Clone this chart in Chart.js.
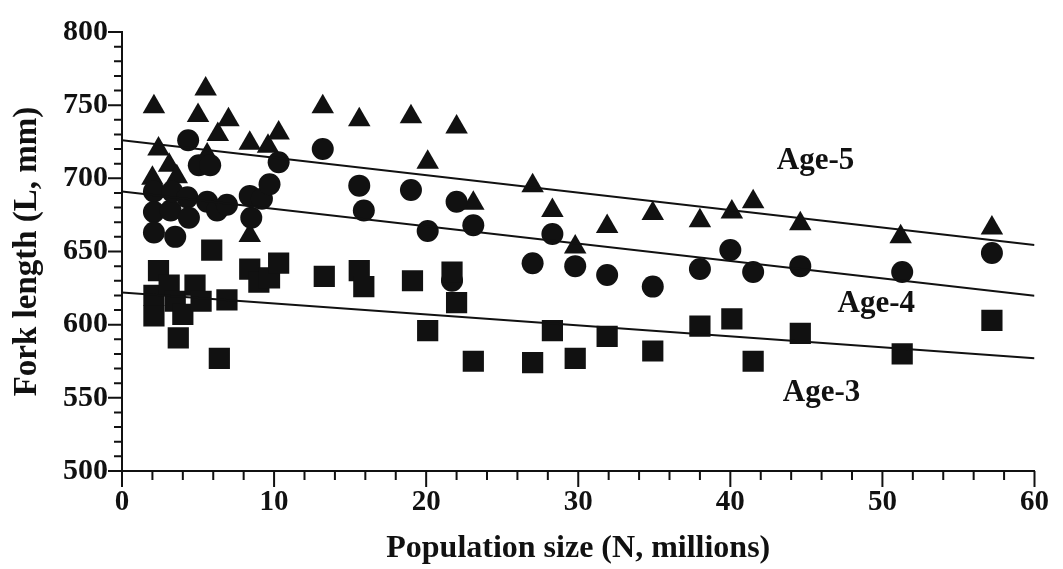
<!DOCTYPE html>
<html>
<head>
<meta charset="utf-8">
<title>Fork length vs population size</title>
<script src="https://cdn.jsdelivr.net/npm/chart.js@4.4.1/dist/chart.umd.min.js"></script>
<style>
  html, body { margin: 0; padding: 0; background: #fff; }
  #wrap { width: 1063px; height: 569px; }
</style>
</head>
<body>
<div id="wrap"><canvas id="chart" width="1063" height="569"></canvas></div>
<script>
// population size (N, millions) and fork length (mm)
const age5X = [2.0, 2.1, 2.4, 3.1, 3.6, 5.0, 5.5, 5.6, 6.3, 7.0, 8.4, 8.4, 9.6, 10.3, 13.2, 15.6, 19.0, 20.1, 22.0, 23.1, 27.0, 28.3, 29.8, 31.9, 34.9, 38.0, 40.1, 41.5, 44.6, 51.2, 57.2];
const age5Y = [700, 749, 720, 709, 701, 743, 761, 716, 730, 740, 724, 661, 722, 731, 749, 740, 742, 711, 735, 683, 695, 678, 653, 667, 676, 671, 677, 684, 669, 660, 666];

const age4X = [2.1, 2.1, 2.1, 3.2, 3.3, 3.5, 4.3, 4.4, 4.35, 5.05, 5.8, 5.6, 6.25, 6.9, 8.4, 9.2, 8.5, 9.7, 10.3, 13.2, 15.6, 15.9, 19.0, 20.1, 21.7, 22.0, 23.1, 27.0, 28.3, 29.8, 31.9, 34.9, 38.0, 40.0, 41.5, 44.6, 51.3, 57.2];
const age4Y = [691, 677, 663, 678, 691, 660, 687, 673, 726, 709, 709, 684, 678, 682, 688, 686, 673, 696, 711, 720, 695, 678, 692, 664, 630, 684, 668, 642, 662, 640, 634, 626, 638, 651, 636, 640, 636, 649];

const age3X = [2.1, 2.1, 2.4, 3.1, 3.5, 3.7, 4.0, 4.8, 5.2, 5.9, 6.4, 6.9, 8.4, 9.0, 9.7, 10.3, 13.3, 15.6, 15.9, 19.1, 20.1, 21.7, 22.0, 23.1, 27.0, 28.3, 29.8, 31.9, 34.9, 38.0, 40.1, 41.5, 44.6, 51.3, 57.2];
const age3Y = [620, 606, 637, 627, 616, 591, 607, 627, 616, 651, 577, 617, 638, 629, 632, 642, 633, 637, 626, 630, 596, 636, 615, 575, 574, 596, 577, 592, 582, 599, 604, 575, 594, 580, 603];

// fitted lines, value at N = 0 and N = 60
const fitX = [0, 60];
const fit5Y = [726, 654.5];
const fit4Y = [691, 619.7];
const fit3Y = [622, 577];

const xTicks = [0, 10, 20, 30, 40, 50, 60];
const yTicks = [500, 550, 600, 650, 700, 750, 800];

const INK = '#111';
const serif = '"Liberation Serif", "Times New Roman", serif';

const pts = (xs, ys) => xs.map((x, i) => ({ x: x, y: ys[i] }));

function markerSet(data, style, radius) {
    return {
        type: 'scatter',
        data: data,
        pointStyle: style,
        pointRadius: radius,
        pointHoverRadius: radius,
        backgroundColor: INK,
        borderColor: INK,
        borderWidth: 0
    };
}

function fitSet(ys) {
    return {
        type: 'line',
        data: pts(fitX, ys),
        borderColor: INK,
        borderWidth: 2,
        pointRadius: 0,
        fill: false,
        tension: 0
    };
}

// axis tick marks (minor + major) and the in-plot labels
const decorations = {
    id: 'decorations',
    afterDraw(chart) {
        const ctx = chart.ctx;
        const xs = chart.scales.x, ys = chart.scales.y;
        const area = chart.chartArea;
        ctx.save();
        ctx.strokeStyle = INK;
        ctx.lineWidth = 2;
        ctx.beginPath();
        for (let v = 0; v <= 60; v += 2) {
            const px = xs.getPixelForValue(v);
            const len = v % 10 === 0 ? 16 : 9;
            ctx.moveTo(px, area.bottom);
            ctx.lineTo(px, area.bottom + len);
        }
        for (let v = 500; v <= 800; v += 10) {
            const py = ys.getPixelForValue(v);
            const len = v % 50 === 0 ? 14 : 8;
            ctx.moveTo(area.left, py);
            ctx.lineTo(area.left - len, py);
        }
        ctx.stroke();

        ctx.fillStyle = INK;
        ctx.font = 'bold 31px ' + serif;
        ctx.textAlign = 'center';
        ctx.textBaseline = 'middle';
        ctx.fillText('Age-5', xs.getPixelForValue(45.6), ys.getPixelForValue(712));
        ctx.fillText('Age-4', xs.getPixelForValue(49.6), ys.getPixelForValue(614));
        ctx.fillText('Age-3', xs.getPixelForValue(46.0), ys.getPixelForValue(553));
        ctx.restore();
    }
};

new Chart(document.getElementById('chart').getContext('2d'), {
    data: {
        datasets: [
            fitSet(fit5Y),
            fitSet(fit4Y),
            fitSet(fit3Y),
            markerSet(pts(age3X, age3Y), 'rect', 15),
            markerSet(pts(age4X, age4Y), 'circle', 11),
            markerSet(pts(age5X, age5Y), 'triangle', 13)
        ]
    },
    options: {
        responsive: false,
        animation: false,
        events: [],
        layout: { padding: { top: 19, right: 22, left: 0, bottom: 0 } },
        plugins: { legend: { display: false }, tooltip: { enabled: false } },
        scales: {
            x: {
                type: 'linear', min: 0, max: 60,
                afterFit: s => { s.height = 98; },
                afterBuildTicks: s => { s.ticks = xTicks.map(v => ({ value: v })); },
                grid: { display: false, drawTicks: false },
                border: { display: true, color: INK, width: 2 },
                ticks: { color: INK, padding: 14, font: { family: serif, size: 29, weight: 'bold' } },
                title: {
                    display: true, text: 'Population size (N, millions)', color: INK,
                    font: { family: serif, size: 32, weight: 'bold' },
                    padding: { top: 0, bottom: 1 }
                }
            },
            y: {
                type: 'linear', min: 500, max: 800,
                afterFit: s => { s.width = 122; },
                afterBuildTicks: s => { s.ticks = yTicks.map(v => ({ value: v })); },
                grid: { display: false, drawTicks: false },
                border: { display: true, color: INK, width: 2 },
                ticks: { color: INK, padding: 14, font: { family: serif, size: 30, weight: 'bold' } },
                title: {
                    display: true, text: 'Fork length (L, mm)', color: INK,
                    font: { family: serif, size: 33, weight: 'bold' },
                    padding: { top: 8, bottom: 0 }
                }
            }
        }
    },
    plugins: [decorations]
});
</script>
</body>
</html>
